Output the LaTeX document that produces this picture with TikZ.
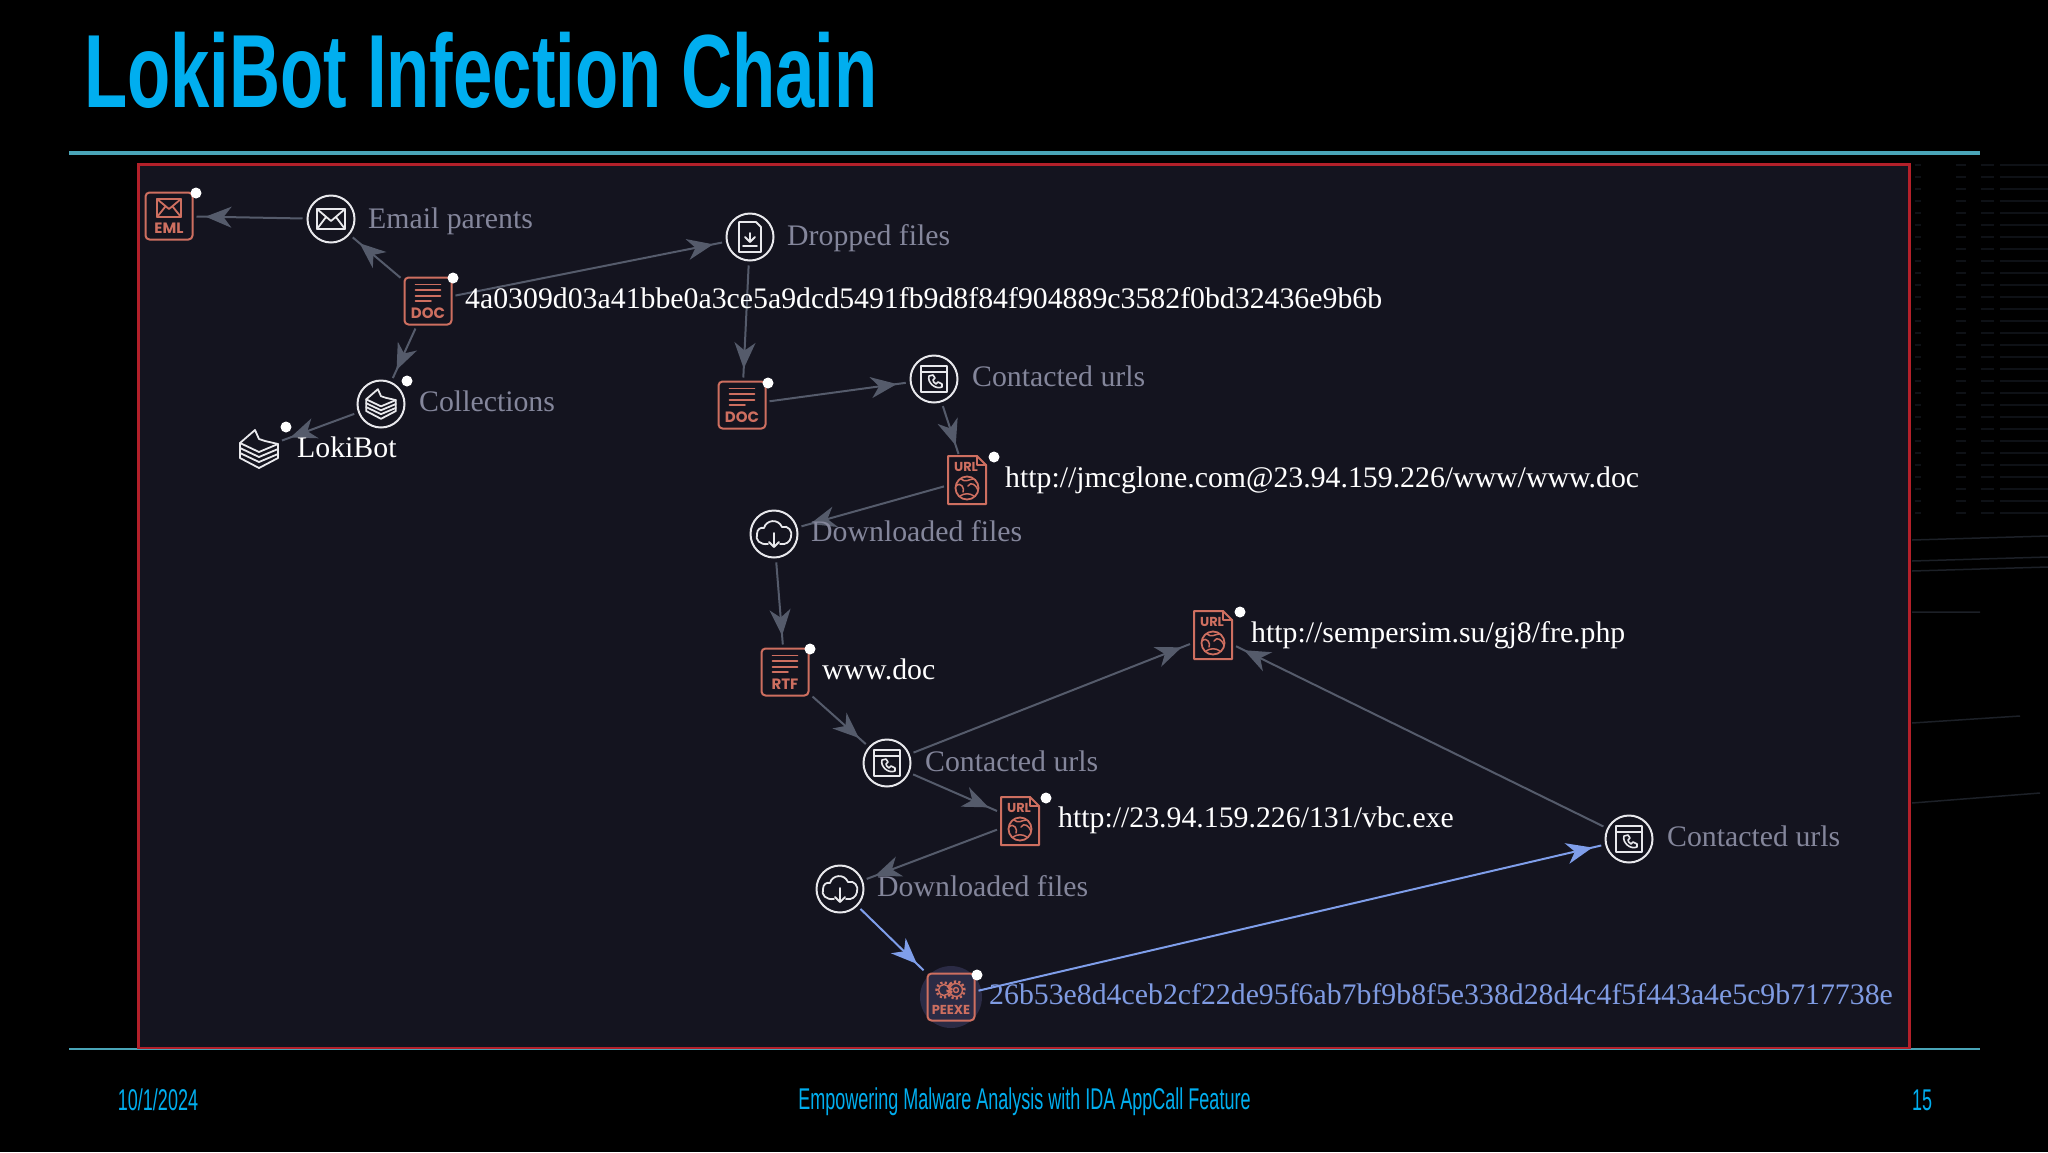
\documentclass[tikz,border=0pt]{standalone}
\usepackage{fontspec}
\setmainfont{Liberation Serif}
\newfontfamily\titlef[FakeStretch=0.68]{Liberation Sans}
\newfontfamily\footf[FakeStretch=0.6]{Liberation Sans}
\newfontfamily\iconf{Poppins}
\usetikzlibrary{arrows.meta,decorations.markings}
\definecolor{panel}{HTML}{14141F}
\definecolor{panelred}{HTML}{B3202A}
\definecolor{teal}{HTML}{4AA5B8}
\definecolor{titleblue}{HTML}{00AEEF}
\definecolor{edgegray}{HTML}{555B6B}
\definecolor{edgeblue}{HTML}{7F9EEA}
\definecolor{lblgray}{HTML}{84869B}
\definecolor{lblblue}{HTML}{7F9BE2}
\definecolor{salmon}{HTML}{CE6F60}
\definecolor{ringwhite}{HTML}{E8E8EC}
\definecolor{haloc}{HTML}{2B2B45}
\definecolor{bgfaint}{HTML}{0E1116}
\definecolor{bgline}{HTML}{1C2027}
\tikzset{
  x=1pt,y=-1pt,
  ring/.style={circle,draw=ringwhite,line width=2pt,minimum size=47pt,inner sep=0pt,outer sep=5pt},
  tile/.style={rectangle,rounded corners=4pt,draw=salmon,line width=2pt,minimum size=47pt,inner sep=0pt,outer sep=4pt},
  bare/.style={rectangle,minimum width=40pt,minimum height=46pt,inner sep=0pt,outer sep=3pt},
  gline/.style={draw=ringwhite,line width=1.8pt,line join=round,line cap=round},
  sline/.style={draw=salmon,line width=1.8pt,line join=round,line cap=round},
  dot/.style={circle,fill=white,minimum size=11pt,inner sep=0pt},
  iconlbl/.style={text=salmon,inner sep=0pt,font=\iconf\bfseries\fontsize{15}{16}\selectfont},
  lbl/.style={anchor=base west,inner sep=0pt,font=\fontsize{29.8}{36}\selectfont},
  glbl/.style={lbl,text=lblgray},
  wlbl/.style={lbl,text=white},
  blbl/.style={lbl,text=lblblue},
  edge/.style={draw=edgegray,line width=2pt,postaction={decorate},
    decoration={markings,mark=at position -9pt with {\arrow[edgegray]{Stealth[length=26pt,width=21pt,inset=8pt]}}}},
  bedge/.style={draw=edgeblue,line width=2pt,postaction={decorate},
    decoration={markings,mark=at position -9pt with {\arrow[edgeblue]{Stealth[length=26pt,width=21pt,inset=8pt]}}}},
  pics/docicon/.style={code={
    \draw[sline] (-12.5,-16.5)--(12.5,-16.5) (-12.5,-10.7)--(12.5,-10.7) (-12.5,-5.3)--(12.5,-5.3) (-12.5,0)--(3,0);
    \node[iconlbl] (-t) at (0,12) {#1};
  }},
  pics/emlicon/.style={code={
    \draw[sline] (-12,-17) rectangle (12,1);
    \draw[sline] (-12,-17)--(0,-7)--(12,-17) (-12,1)--(-4,-9) (12,1)--(4,-9);
    \node[iconlbl] (-t) at (0,12) {EML};
  }},
  pics/urlicon/.style={code={
    \draw[sline,line width=2pt] (-19,-24)--(10,-24)--(19,-15)--(19,24)--(-19,24)--cycle;
    \draw[sline,line width=1.5pt] (10,-24)--(10,-15)--(19,-15);
    \node[iconlbl,font=\iconf\bfseries\fontsize{13}{14}\selectfont] (-t) at (-1,-13) {URL};
    \draw[sline] (0,8) circle (11.5pt);
    \draw[sline,line width=1.5pt] (-11,6) .. controls (-6,1) and (-2,9) .. (-4,12) (-6,-1) .. controls (-2,3) and (3,-1) .. (6,-1)
      (1,6) .. controls (4,1) and (9,5) .. (11,10) (-7,16) .. controls (-3,13) and (3,13) .. (7,16);
  }},
  pics/gearicon/.style={code={
    \draw[sline,line width=1.4pt] (-7,-7) circle (5.5pt) (5,-7) circle (6.5pt) (5,-7) circle (2.5pt);
    \draw[salmon,line width=2.4pt,dash pattern=on 2.2pt off 2.2pt] (-7,-7) circle (7.5pt) (5,-7) circle (8.5pt);
    \node[iconlbl,font=\iconf\bfseries\fontsize{13}{14}\selectfont] (-t) at (0,13) {PEEXE};
  }},
  pics/mailring/.style={code={
    \draw[gline] (-14,-10) rectangle (14,10);
    \draw[gline] (-14,-10)--(0,2)--(14,-10) (-14,10)--(-5,-2) (14,10)--(5,-2);
  }},
  pics/phonering/.style={code={
    \draw[gline] (-13,-13) rectangle (13,13);
    \draw[gline] (-13,-7)--(13,-7);
    \draw[gline,line width=1.6pt] (-5,-3) .. controls (-7,3) and (1,11) .. (8,8) -- (8,5) -- (4,3) -- (2,5) .. controls (0,4) and (-1,2) .. (-1,1) -- (1,-1) -- (-1,-4) -- cycle;
  }},
  pics/cloudring/.style={code={
    \draw[gline] (-6,10) .. controls (-14,11) and (-19,6) .. (-17,0) .. controls (-17,-5) and (-13,-7) .. (-10,-6)
      .. controls (-8,-14) and (4,-16) .. (8,-7) .. controls (14,-9) and (19,-3) .. (17,3) .. controls (16,8) and (12,11) .. (6,10);
    \draw[gline] (0,-1)--(0,13) (-5,8)--(0,13)--(5,8);
  }},
  pics/dropring/.style={code={
    \draw[gline] (-11,-15)--(6,-15)--(11,-10)--(11,15)--(-11,15)--cycle;
    \draw[gline] (0,-4)--(0,5) (-5,0)--(0,5)--(5,0) (-7,9)--(7,9);
  }},
  pics/stackicon/.style={code={
    \draw[gline] (-19,-6)--(-4,-19)--(0,-10)--(6,-8)--(19,-5)--(19,9)--(0,19)--(-19,9)--cycle;
    \draw[gline] (-19,-6)--(0,3)--(19,-5) (-19,-1)--(0,8)--(19,0) (-19,4)--(0,13)--(19,5);
  }},
}
\begin{document}
\begin{tikzpicture}
\useasboundingbox (0,0) rectangle (2048,1152);
\fill[black] (0,0) rectangle (2048,1152);
% faint background table on the right
\foreach \yy in {165,177,189,201,213,225,237,249,261,273,285,297,309,321,333,345,357,369,381,393,405,417,429,441,453,465,477,489,501,513}{
  \draw[bgfaint,line width=2.5pt] (1956,\yy)--(1966,\yy) (1981,\yy)--(1994,\yy) (2000,\yy)--(2048,\yy) (1915,\yy)--(1921,\yy);
}
\draw[bgline,line width=1.5pt] (1912,540)--(2048,536) (1912,561)--(2048,557) (1912,571)--(2048,567) (1912,612)--(1980,612) (1912,723)--(2020,716) (1912,803)--(2040,793);
% title and rules
\node[anchor=base west,inner sep=0pt,text=titleblue,font=\titlef\bfseries\fontsize{104}{110}\selectfont] (title) at (84,107) {LokiBot Infection Chain};
\fill[teal] (69,150.5) rectangle (1980,155);
\draw[teal,line width=1.5pt] (69,1049) -- (1980,1049);
% panel
\draw[panelred,fill=panel,line width=2.4pt] (138.5,164.5) rectangle (1909.5,1048);
\node[anchor=center,text=titleblue,font=\footf\fontsize{30}{32}\selectfont,inner sep=0pt] (fdate) at (158,1100) {10/1/2024};
\node[anchor=center,text=titleblue,font=\footf\fontsize{30}{32}\selectfont,inner sep=0pt] (ftitle) at (1024.5,1102) {Empowering Malware Analysis with IDA AppCall Feature};
\node[anchor=center,text=titleblue,font=\footf\fontsize{30}{32}\selectfont,inner sep=0pt] (fpage) at (1922,1100) {15};
% halo
\fill[haloc] (951,997) circle (31pt);
% nodes
\node[tile] (eml) at (169,216) {};
\node[ring] (email) at (331,219) {};
\node[tile] (doca) at (428,301) {};
\node[ring] (coll) at (381,404) {};
\node[bare] (loki) at (259,449) {};
\node[ring] (drop) at (750,237) {};
\node[tile] (docb) at (742,405) {};
\node[ring] (conta) at (934,379) {};
\node[bare] (urla) at (967,480) {};
\node[ring] (downa) at (774,534) {};
\node[tile] (rtf) at (785,672) {};
\node[ring] (contb) at (887,763) {};
\node[bare] (urlb) at (1020,821) {};
\node[bare] (urlc) at (1213,635) {};
\node[ring] (downb) at (840,889) {};
\node[tile,fill=haloc] (peexe) at (951,997) {};
\node[ring] (contc) at (1629,839) {};
% connectors
\draw[edge] (email) -- (eml);
\draw[edge] (doca) -- (email);
\draw[edge] (doca) -- (drop);
\draw[edge] (doca) -- (coll);
\draw[edge] (coll) -- (loki);
\draw[edge] (drop) -- (docb);
\draw[edge] (docb) -- (conta);
\draw[edge] (conta) -- (urla);
\draw[edge] (urla) -- (downa);
\draw[edge] (downa) -- (rtf);
\draw[edge] (rtf) -- (contb);
\draw[edge] (contb) -- (urlc);
\draw[edge] (contb) -- (urlb);
\draw[edge] (urlb) -- (downb);
\draw[edge] (contc) -- (urlc);
\draw[bedge] (downb) -- (peexe);
\draw[bedge] (peexe) -- (contc);
% icons
\pic (ie) at (eml) {emlicon};
\pic (im) at (email) {mailring};
\pic (ida) at (doca) {docicon=DOC};
\pic[scale=.78] (ic) at (coll) {stackicon};
\pic (il) at (loki) {stackicon};
\pic (idr) at (drop) {dropring};
\pic (idb) at (docb) {docicon=DOC};
\pic (ipa) at (conta) {phonering};
\pic (iua) at (urla) {urlicon};
\pic (ica) at (downa) {cloudring};
\pic (irt) at (rtf) {docicon=RTF};
\pic (ipb) at (contb) {phonering};
\pic (iub) at (urlb) {urlicon};
\pic (iuc) at (urlc) {urlicon};
\pic (icb) at (downb) {cloudring};
\pic (ige) at (peexe) {gearicon};
\pic (ipc) at (contc) {phonering};
% badges
\node[dot] (d1) at (196,193) {};
\node[dot] (d2) at (453,278) {};
\node[dot] (d3) at (407,381) {};
\node[dot] (d4) at (286,427) {};
\node[dot] (d5) at (768,383) {};
\node[dot] (d6) at (994,457) {};
\node[dot] (d7) at (810,649) {};
\node[dot] (d8) at (1046,798) {};
\node[dot] (d9) at (1240,612) {};
\node[dot] (d10) at (977,975) {};
% labels
\node[glbl] (l1) at (368,228) {Email parents};
\node[glbl] (l2) at (787,245) {Dropped files};
\node[wlbl] (l3) at (465,308) {4a0309d03a41bbe0a3ce5a9dcd5491fb9d8f84f904889c3582f0bd32436e9b6b};
\node[glbl] (l4) at (419,411) {Collections};
\node[wlbl] (l5) at (297,457) {LokiBot};
\node[glbl] (l6) at (972,386) {Contacted urls};
\node[wlbl] (l7) at (1005,487) {http://jmcglone.com@23.94.159.226/www/www.doc};
\node[glbl] (l8) at (811,541) {Downloaded files};
\node[wlbl] (l9) at (822,679) {www.doc};
\node[wlbl] (l10) at (1251,642) {http://sempersim.su/gj8/fre.php};
\node[glbl] (l11) at (925,771) {Contacted urls};
\node[wlbl] (l12) at (1058,827) {http://23.94.159.226/131/vbc.exe};
\node[glbl] (l13) at (877,896) {Downloaded files};
\node[blbl] (l14) at (989,1004) {26b53e8d4ceb2cf22de95f6ab7bf9b8f5e338d28d4c4f5f443a4e5c9b717738e};
\node[glbl] (l15) at (1667,846) {Contacted urls};
\end{tikzpicture}
\end{document}
